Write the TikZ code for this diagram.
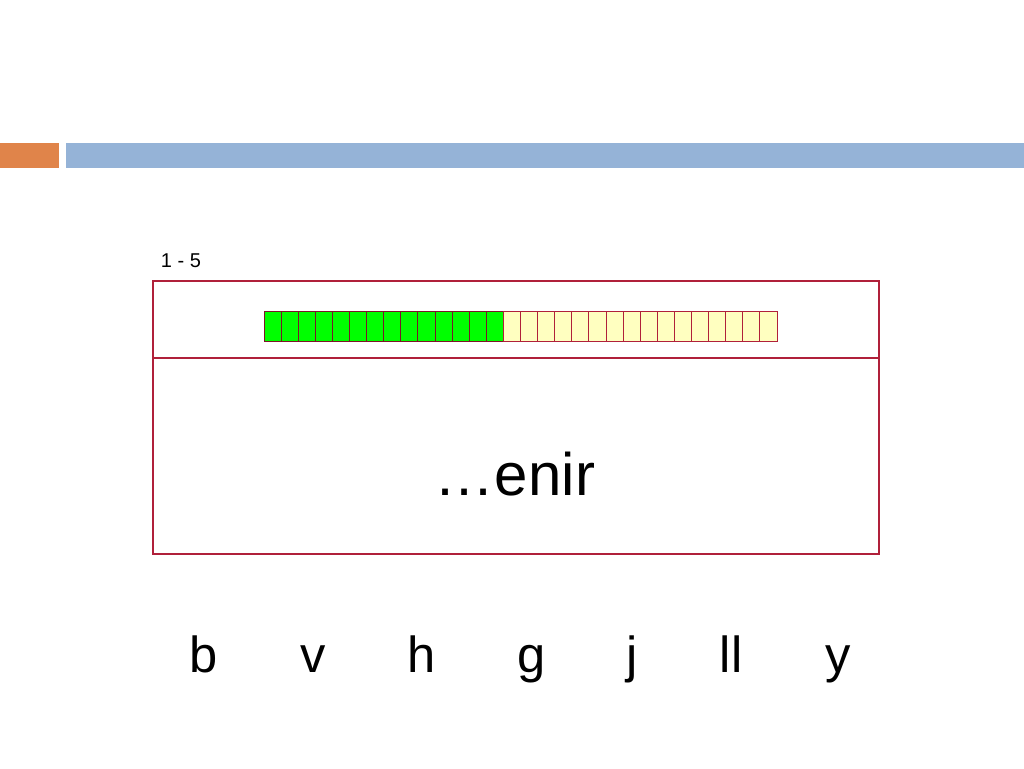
\documentclass[tikz,border=0pt]{standalone}
\usepackage{fontspec}
\setmainfont{Liberation Sans}
\definecolor{barblue}{HTML}{95B3D7}
\definecolor{barorange}{HTML}{E0844A}
\definecolor{boxred}{HTML}{B0203A}
\definecolor{cellyel}{HTML}{FFFFC0}
\begin{document}
\begin{tikzpicture}[x=0.75pt,y=-0.75pt,
  cellg/.style={draw=boxred!70!black,fill=green,line width=0.7pt},
  celly/.style={draw=boxred,fill=cellyel,line width=0.7pt},
  letter/.style={font=\fontsize{38}{44}\selectfont,anchor=base}]
\useasboundingbox (0,0) rectangle (1024,768);
\fill[barorange] (0,143) rectangle (59,168);
\fill[barblue] (66,143) rectangle (1024,168);
\node (lbl) at (181,261) {\fontsize{15}{18}\selectfont 1 - 5};
\draw[draw=boxred,line width=0.8pt] (153,281) rectangle (879,554);
\draw[draw=boxred,line width=0.8pt] (153,358) -- (879,358);
\foreach \i in {0,...,29}{
  \pgfmathsetmacro\xa{264+\i*17.1}
  \pgfmathsetmacro\xb{264+(\i+1)*17.1}
  \ifnum\i<14 \draw[cellg] (\xa,311) rectangle (\xb,341);
  \else \draw[celly] (\xa,311) rectangle (\xb,341); \fi}
\node (w) at (515,474) {\fontsize{45}{52}\selectfont …enir};
\foreach \x/\t in {204/b,313/v,422/h,532/g,632/j,731/ll,838/y}
  \node[letter] at (\x,672) {\t};
\end{tikzpicture}
\end{document}
